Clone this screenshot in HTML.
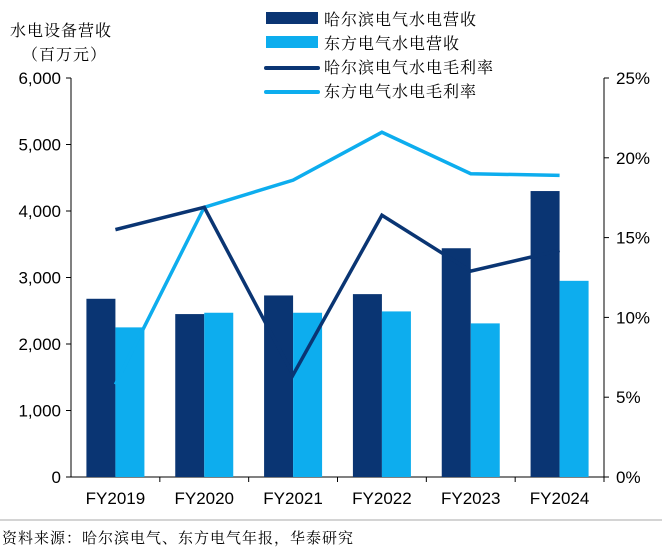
<!DOCTYPE html>
<html><head><meta charset="utf-8"><style>
body{margin:0;background:#fff;}
svg text{font-family:"Liberation Sans","Noto Sans CJK SC",sans-serif;}
svg text.cn{font-family:"Liberation Serif","Noto Serif CJK SC",serif;letter-spacing:1px;}
</style></head><body>
<svg width="662" height="550">
<g id="g"></g>
</svg>
<script>
const categories=["FY2019","FY2020","FY2021","FY2022","FY2023","FY2024"];
const harbinRev=[2680,2450,2730,2750,3440,4300];
const dongfangRev=[2250,2470,2470,2490,2310,2950];
const harbinMargin=[15.5,16.9,6.4,16.4,12.9,14.2];
const dongfangMargin=[5.8,16.9,18.6,21.6,19.0,18.9];
const leftTicks=[0,1000,2000,3000,4000,5000,6000];
const rightTicks=[0,5,10,15,20,25];
const DARK="#0a3573",LIGHT="#0dadee";
const x0=71,x1=604,y0=477,y1=78;
const bw=(x1-x0)/categories.length;
const yL=v=>y0-(v/6000)*(y0-y1);
const yR=v=>y0-(v/25)*(y0-y1);
const xc=i=>x0+bw*(i+0.5);
const g=document.getElementById('g');
const NS="http://www.w3.org/2000/svg";
function mk(t,a,p){const e=document.createElementNS(NS,t);for(const k in a)e.setAttribute(k,a[k]);(p||g).appendChild(e);return e;}
function tx(s,a){const e=mk('text',a);e.textContent=s;return e;}
let e;
e=mk('line',{x1:x0,y1:y1,x2:x0,y2:y0,stroke:'#000'});


e=mk('line',{x1:x1,y1:y1,x2:x1,y2:y0,stroke:'#000'});


e=mk('line',{x1:x0,y1:y0,x2:x1,y2:y0,stroke:'#000'});


leftTicks.forEach(v=>{mk('line',{x1:x0-5,y1:yL(v),x2:x0,y2:yL(v),stroke:'#000'});
 e=tx(v.toLocaleString('en-US'),{x:x0-10,y:yL(v)+6,'text-anchor':'end','font-size':17});
 
 });
rightTicks.forEach(v=>{mk('line',{x1:x1,y1:yR(v),x2:x1+5,y2:yR(v),stroke:'#000'});
 e=tx(v+'%',{x:x1+12,y:yR(v)+6,'font-size':17});
 
 });
categories.forEach((c,i)=>{mk('line',{x1:x0+bw*(i+1),y1:y0,x2:x0+bw*(i+1),y2:y0+5,stroke:'#000'});
 e=tx(c,{x:xc(i),y:y0+27,'text-anchor':'middle','font-size':17});
 
 });
const w=29;
categories.forEach((c,i)=>{
 e=mk('rect',{x:xc(i)-w,y:yL(harbinRev[i]),width:w,height:y0-yL(harbinRev[i]),fill:DARK});
 
 
 e=mk('rect',{x:xc(i),y:yL(dongfangRev[i]),width:w,height:y0-yL(dongfangRev[i]),fill:LIGHT});
 
 
});
e=mk('polyline',{points:dongfangMargin.map((v,i)=>xc(i)+','+yR(v)).join(' '),fill:'none',stroke:LIGHT,'stroke-width':3.5});


e=mk('polyline',{points:harbinMargin.map((v,i)=>xc(i)+','+yR(v)).join(' '),fill:'none',stroke:DARK,'stroke-width':3.5});


e=tx('水电设备营收',{x:10,y:36,'font-size':16,class:'cn'});


e=tx('（百万元）',{x:22,y:60,'font-size':16,class:'cn'});


const leg=[['哈尔滨电气水电营收',DARK,'bar'],['东方电气水电营收',LIGHT,'bar'],['哈尔滨电气水电毛利率',DARK,'line'],['东方电气水电毛利率',LIGHT,'line']];
leg.forEach((l,i)=>{const y=18+i*24;
 if(l[2]=='bar')e=mk('rect',{x:266,y:y-6,width:52,height:12,fill:l[1]});
 else e=mk('line',{x1:266,y1:y+2,x2:318,y2:y+2,stroke:l[1],'stroke-width':4,'stroke-linecap':'round'});
 
 
 e=tx(l[0],{x:324,y:y+7,'font-size':16,class:'cn'});
 
 
});
e=mk('line',{x1:0,y1:520,x2:662,y2:520,stroke:'#aaa','stroke-width':1});


e=tx('资料来源：哈尔滨电气、东方电气年报，华泰研究',{x:2,y:543,'font-size':15,class:'cn'});


</script>
</body></html>
